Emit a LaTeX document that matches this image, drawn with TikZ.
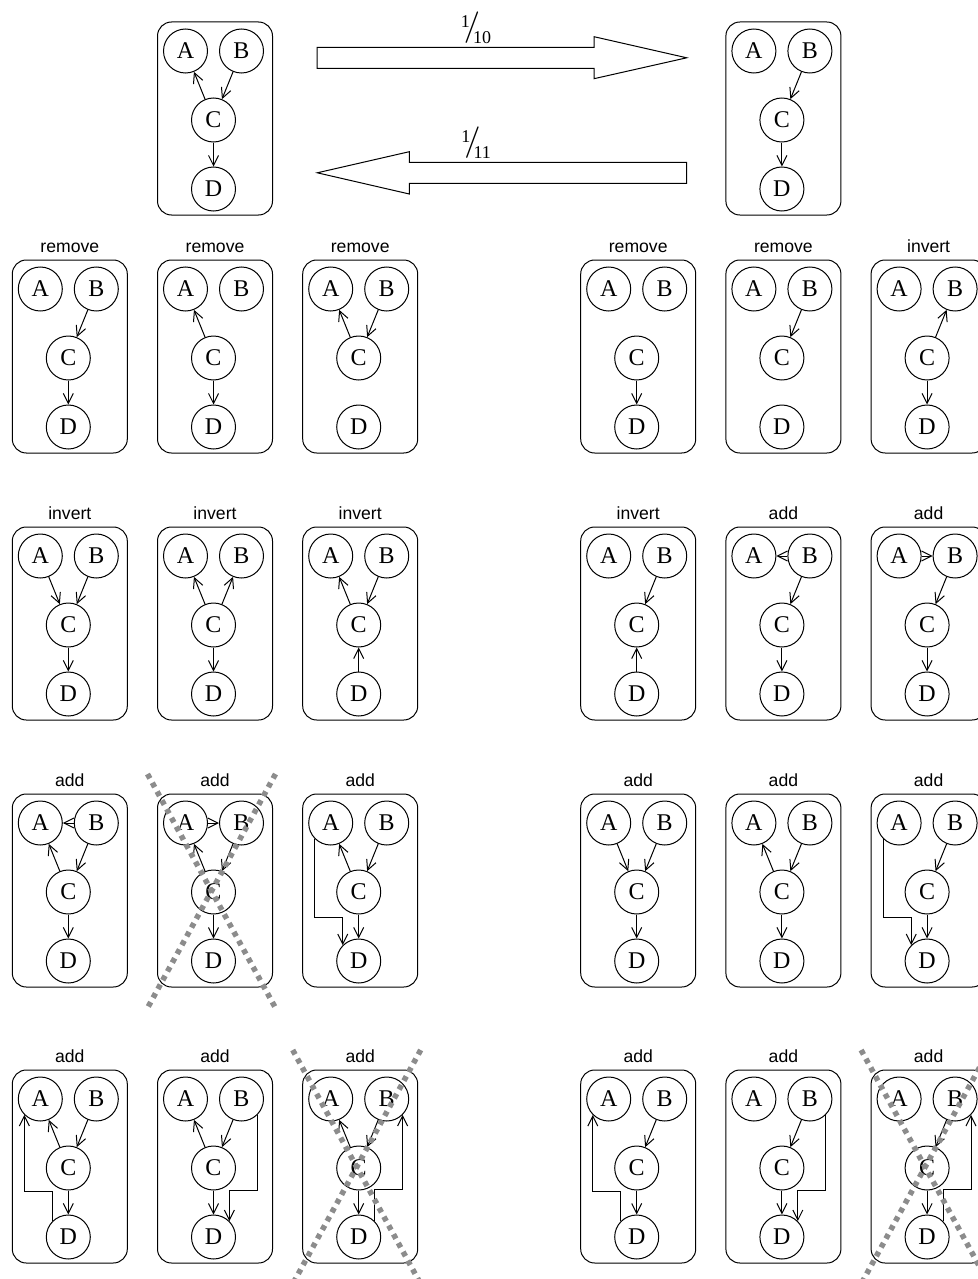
\documentclass[tikz,border=0pt]{standalone}
\usepackage{fontspec}
\setmainfont{Liberation Serif}
\setsansfont{Liberation Sans}
\usetikzlibrary{arrows.meta,calc}

\begin{document}
\begin{tikzpicture}[
    x=0.5pt, y=-0.5pt,
    frame/.style={draw, line width=0.5pt, rounded corners=7pt},
    vertex/.style={circle, draw, line width=0.5pt, minimum size=22pt, inner sep=0pt,
        font=\fontsize{12}{13}\selectfont},
    tag/.style={font=\sffamily\fontsize{8.8}{10}\selectfont, anchor=base, inner sep=0pt},
    edge/.style={line width=0.5pt, -{Straight Barb[length=5pt,width=5pt]}},
    bigarrow/.style={draw, line width=0.5pt},
    rate/.style={font=\fontsize{9}{10}\selectfont, anchor=base west, inner sep=0pt},
    cross/.style={draw=black!45, line width=2.75pt, dash pattern=on 2.5pt off 2.5pt},
    graph/.pic={
        \draw[frame] (0,0) rectangle (115,193);
        \node[tag] at (57.5,-8) {#1};
        \node[vertex] (-A) at (28,29) {A};
        \node[vertex] (-B) at (84,29) {B};
        \node[vertex] (-C) at (56,98) {C};
        \node[vertex] (-D) at (56,167) {D};
    },
]
\path[use as bounding box] (0,0) rectangle (978,1279);
\clip (0,0) rectangle (978,1279);

% --- TOP: the two graphs and the moves between them ---
\pic (s) at (157.5,22) {graph};
\draw[edge] (s-C) -- (s-A);
\draw[edge] (s-B) -- (s-C);
\draw[edge] (s-C) -- (s-D);
\pic (t) at (725.9,22) {graph};
\draw[edge] (t-B) -- (t-C);
\draw[edge] (t-C) -- (t-D);
% block arrows
\draw[bigarrow] (317,47.3) -- (594,47.3) -- (594,36.7) -- (686.7,57.8)
    -- (594,78.7) -- (594,68.3) -- (317,68.3) -- cycle;
\draw[bigarrow] (686.7,162.3) -- (409.3,162.3) -- (409.3,151.7) -- (317.3,172.8)
    -- (409.3,194) -- (409.3,183.3) -- (686.7,183.3) -- cycle;
\node[rate] (fwd) at (460.5,43.3)
    {\raisebox{7.8pt}{1}\kern-3pt\raisebox{3.9pt}{\scalebox{1.75}{$/$}}\kern-3.5pt10};
\node[rate] (bwd) at (461,158.3)
    {\raisebox{7.8pt}{1}\kern-3pt\raisebox{3.9pt}{\scalebox{1.75}{$/$}}\kern-3.5pt11};

% --- ROW 1 ---
\pic (a1) at (12.3,260) {graph=remove};
\draw[edge] (a1-B) -- (a1-C);
\draw[edge] (a1-C) -- (a1-D);
\pic (a2) at (157.5,260) {graph=remove};
\draw[edge] (a2-C) -- (a2-A);
\draw[edge] (a2-C) -- (a2-D);
\pic (a3) at (302.7,260) {graph=remove};
\draw[edge] (a3-C) -- (a3-A);
\draw[edge] (a3-B) -- (a3-C);
\pic (a4) at (580.7,260) {graph=remove};
\draw[edge] (a4-C) -- (a4-D);
\pic (a5) at (725.9,260) {graph=remove};
\draw[edge] (a5-B) -- (a5-C);
\pic (a6) at (871.1,260) {graph=invert};
\draw[edge] (a6-C) -- (a6-B);
\draw[edge] (a6-C) -- (a6-D);

% --- ROW 2 ---
\pic (b1) at (12.3,527) {graph=invert};
\draw[edge] (b1-A) -- (b1-C);
\draw[edge] (b1-B) -- (b1-C);
\draw[edge] (b1-C) -- (b1-D);
\pic (b2) at (157.5,527) {graph=invert};
\draw[edge] (b2-C) -- (b2-A);
\draw[edge] (b2-C) -- (b2-B);
\draw[edge] (b2-C) -- (b2-D);
\pic (b3) at (302.7,527) {graph=invert};
\draw[edge] (b3-C) -- (b3-A);
\draw[edge] (b3-B) -- (b3-C);
\draw[edge] (b3-D) -- (b3-C);
\pic (b4) at (580.7,527) {graph=invert};
\draw[edge] (b4-B) -- (b4-C);
\draw[edge] (b4-D) -- (b4-C);
\pic (b5) at (725.9,527) {graph=add};
\draw[edge] (b5-B) -- (b5-A);
\draw[edge] (b5-B) -- (b5-C);
\draw[edge] (b5-C) -- (b5-D);
\pic (b6) at (871.1,527) {graph=add};
\draw[edge] (b6-A) -- (b6-B);
\draw[edge] (b6-B) -- (b6-C);
\draw[edge] (b6-C) -- (b6-D);

% --- ROW 3 ---
\pic (c1) at (12.3,794) {graph=add};
\draw[edge] (c1-B) -- (c1-A);
\draw[edge] (c1-C) -- (c1-A);
\draw[edge] (c1-B) -- (c1-C);
\draw[edge] (c1-C) -- (c1-D);
\pic (c2) at (157.5,794) {graph=add};
\draw[edge] (c2-A) -- (c2-B);
\draw[edge] (c2-C) -- (c2-A);
\draw[edge] (c2-B) -- (c2-C);
\draw[edge] (c2-C) -- (c2-D);
\pic (c3) at (302.7,794) {graph=add};
\draw[edge] (c3-C) -- (c3-A);
\draw[edge] (c3-B) -- (c3-C);
\draw[edge] (c3-C) -- (c3-D);
\draw[edge] (c3-A.225) |- ($(c3-D.135)+(0,-28)$) -- (c3-D.135);
\pic (c4) at (580.7,794) {graph=add};
\draw[edge] (c4-A) -- (c4-C);
\draw[edge] (c4-B) -- (c4-C);
\draw[edge] (c4-C) -- (c4-D);
\pic (c5) at (725.9,794) {graph=add};
\draw[edge] (c5-C) -- (c5-A);
\draw[edge] (c5-B) -- (c5-C);
\draw[edge] (c5-C) -- (c5-D);
\pic (c6) at (871.1,794) {graph=add};
\draw[edge] (c6-B) -- (c6-C);
\draw[edge] (c6-C) -- (c6-D);
\draw[edge] (c6-A.225) |- ($(c6-D.135)+(0,-28)$) -- (c6-D.135);

% --- ROW 4 ---
\pic (d1) at (12.3,1070) {graph=add};
\draw[edge] (d1-C) -- (d1-A);
\draw[edge] (d1-B) -- (d1-C);
\draw[edge] (d1-C) -- (d1-D);
\draw[edge] (d1-D.135) -- ++(0,-30) -| (d1-A.225);
\pic (d2) at (157.5,1070) {graph=add};
\draw[edge] (d2-C) -- (d2-A);
\draw[edge] (d2-B) -- (d2-C);
\draw[edge] (d2-C) -- (d2-D);
\draw[edge] (d2-B.-45) |- ($(d2-D.45)+(0,-31)$) -- (d2-D.45);
\pic (d3) at (302.7,1070) {graph=add};
\draw[edge] (d3-C) -- (d3-A);
\draw[edge] (d3-B) -- (d3-C);
\draw[edge] (d3-C) -- (d3-D);
\draw[edge] (d3-D.45) -- ++(0,-32) -| (d3-B.-45);
\pic (d4) at (580.7,1070) {graph=add};
\draw[edge] (d4-B) -- (d4-C);
\draw[edge] (d4-C) -- (d4-D);
\draw[edge] (d4-D.135) -- ++(0,-30) -| (d4-A.225);
\pic (d5) at (725.9,1070) {graph=add};
\draw[edge] (d5-B) -- (d5-C);
\draw[edge] (d5-C) -- (d5-D);
\draw[edge] (d5-B.-45) |- ($(d5-D.45)+(0,-31)$) -- (d5-D.45);
\pic (d6) at (871.1,1070) {graph=add};
\draw[edge] (d6-B) -- (d6-C);
\draw[edge] (d6-C) -- (d6-D);
\draw[edge] (d6-D.45) -- ++(0,-32) -| (d6-B.-45);

% crossed-out moves
\draw[cross] (147.5,774) -- (275.5,1008);
\draw[cross] (275.5,774) -- (147.5,1008);
\draw[cross] (292.7,1050) -- (420.7,1284);
\draw[cross] (420.7,1050) -- (292.7,1284);
\draw[cross] (861.1,1050) -- (989.1,1284);
\draw[cross] (989.1,1050) -- (861.1,1284);

\end{tikzpicture}
\end{document}
